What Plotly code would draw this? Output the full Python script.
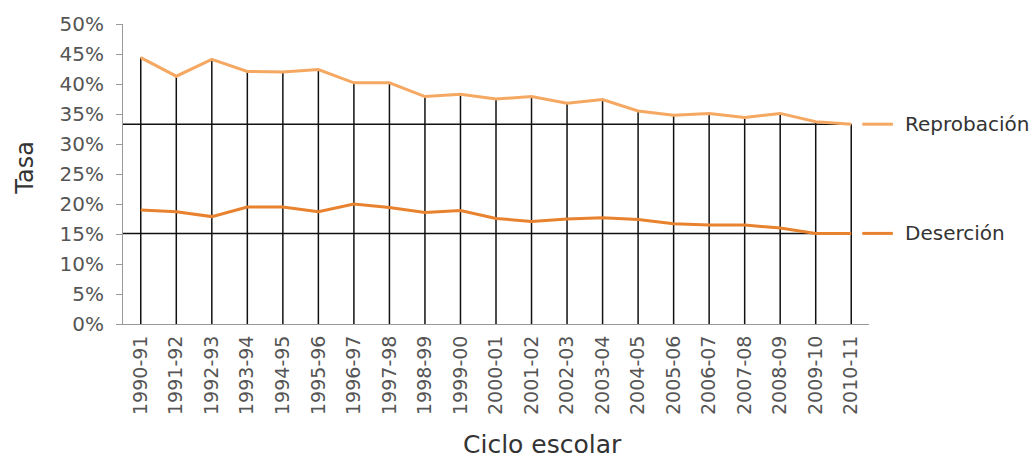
import plotly.graph_objects as go

ciclos = ["1990-91", "1991-92", "1992-93", "1993-94", "1994-95", "1995-96", "1996-97",
          "1997-98", "1998-99", "1999-00", "2000-01", "2001-02", "2002-03", "2003-04",
          "2004-05", "2005-06", "2006-07", "2007-08", "2008-09", "2009-10", "2010-11"]
reprobacion = [44.4, 41.3, 44.1, 42.1, 42.0, 42.4, 40.2, 40.2, 37.9, 38.3, 37.5,
               37.9, 36.8, 37.4, 35.5, 34.8, 35.1, 34.4, 35.1, 33.7, 33.3]
desercion = [19.0, 18.7, 17.9, 19.5, 19.5, 18.7, 20.0, 19.4, 18.6, 18.9, 17.6,
             17.1, 17.5, 17.7, 17.4, 16.7, 16.5, 16.5, 16.0, 15.1, 15.1]
y_ticks = [0, 5, 10, 15, 20, 25, 30, 35, 40, 45, 50]
y_ticklabels = [f"{v}%" for v in y_ticks]

C_REP = "#F5A862"
C_DES = "#E8822E"
FONT = "DejaVu Sans"

idx = list(range(len(ciclos)))

# vertical drop lines from 0 to reprobación value
vx, vy = [], []
for i, v in zip(idx, reprobacion):
    vx += [i, i, None]
    vy += [0, v, None]

fig = go.Figure()
fig.add_trace(go.Scatter(x=vx, y=vy, mode="lines", line=dict(color="#111111", width=1.5),
                         hoverinfo="skip", showlegend=False))
for series in (reprobacion, desercion):
    fig.add_trace(go.Scatter(x=[-0.5, idx[-1]], y=[series[-1], series[-1]], mode="lines",
                             line=dict(color="#111111", width=1.5), hoverinfo="skip",
                             showlegend=False))
fig.add_trace(go.Scatter(x=idx, y=reprobacion, mode="lines", name="Reprobación",
                         line=dict(color=C_REP, width=3), showlegend=False))
fig.add_trace(go.Scatter(x=idx, y=desercion, mode="lines", name="Deserción",
                         line=dict(color=C_DES, width=3), showlegend=False))

# legend-like labels at the end of each line
for name, series, col in (("Reprobación", reprobacion, C_REP), ("Deserción", desercion, C_DES)):
    fig.add_shape(type="line", xref="paper", yref="y", x0=0.991, x1=1.032,
                  y0=series[-1], y1=series[-1], line=dict(color=col, width=3))
    fig.add_annotation(xref="paper", yref="y", x=1.045, y=series[-1], text=name,
                       showarrow=False, xanchor="left", yanchor="middle",
                       font=dict(family=FONT, size=20, color="#333333"))

# axis titles
fig.add_annotation(xref="paper", yref="paper", x=0, y=0.521, xshift=-98, text="Tasa",
                   textangle=-90, showarrow=False, xanchor="center", yanchor="middle",
                   font=dict(family=FONT, size=24, color="#333333"))
fig.add_annotation(xref="paper", yref="paper", x=0.563, y=0, yshift=-120,
                   text="Ciclo escolar", showarrow=False, xanchor="center",
                   yanchor="middle", font=dict(family=FONT, size=25, color="#333333"))

fig.update_layout(
    width=1034, height=459,
    margin=dict(l=123, r=165, t=19, b=135),
    paper_bgcolor="white", plot_bgcolor="white",
    font=dict(family=FONT, color="#555555"),
    xaxis=dict(range=[-0.5, len(ciclos) - 0.5], tickmode="array", tickvals=idx,
               ticktext=ciclos, tickangle=-90, showgrid=False, zeroline=False,
               showline=True, linecolor="#999999", linewidth=1, ticks="",
               ticklabelstandoff=3,
               tickfont=dict(family=FONT, size=19, color="#555555")),
    yaxis=dict(range=[0, 50], tickmode="array", tickvals=y_ticks, ticktext=y_ticklabels,
               showgrid=False, zeroline=False, showline=True, linecolor="#999999",
               linewidth=1, ticks="outside", ticklen=6, tickcolor="#999999",
               ticklabelstandoff=8, ticklabeloverflow="allow",
               tickfont=dict(family=FONT, size=20, color="#555555")),
)

fig.write_html(
    "out.html",
    config={"displayModeBar": False},
    post_script="document.body.style.margin='0';document.body.style.overflow='hidden';",
)
